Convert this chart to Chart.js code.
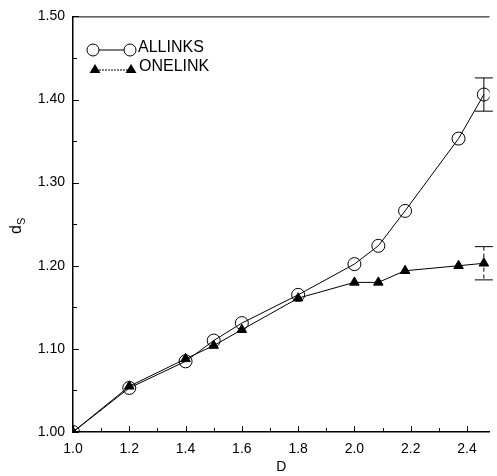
<!DOCTYPE html>
<html>
<head>
<meta charset="utf-8">
<script src="https://cdn.jsdelivr.net/npm/chart.js@4"></script>
<style>
  body { margin: 0; background: #fff; }
  #wrap { width: 497px; height: 476px; }
</style>
</head>
<body>
<div id="wrap"><canvas id="chart" width="497" height="476"></canvas></div>
<script>
// data
const dValues = [1.0, 1.2, 1.4, 1.5, 1.6, 1.8, 2.0, 2.085, 2.18, 2.37, 2.46];
const allinks = [1.000, 1.053, 1.085, 1.110, 1.131, 1.165, 1.202, 1.224, 1.266, 1.353, 1.406];
const onelink = [1.000, 1.055, 1.088, 1.104, 1.123, 1.161, 1.180, 1.180, 1.194, 1.200, 1.203];
const allinksErr = [0, 0, 0, 0, 0, 0, 0, 0, 0, 0, 0.02];
const onelinkErr = [0, 0, 0, 0, 0, 0, 0, 0, 0, 0, 0.02];

const xTicks = [1.0, 1.2, 1.4, 1.6, 1.8, 2.0, 2.2, 2.4];
const xMinor = [1.1, 1.3, 1.5, 1.7, 1.9, 2.1, 2.3];
const yTicks = [1.0, 1.1, 1.2, 1.3, 1.4, 1.5];
const yMinor = [1.05, 1.15, 1.25, 1.35, 1.45];

const FONT = 'Liberation Sans, Arial, Helvetica, sans-serif';

function pts(ys) {
    return dValues.map((x, i) => ({ x: x, y: ys[i] }));
}

// ticks pointing into the plot, top frame line, error bars, legend, y title
const decorations = {
    id: 'decorations',
    afterDatasetsDraw(chart) {
        const ctx = chart.ctx;
        const xs = chart.scales.x;
        const ys = chart.scales.y;
        const area = chart.chartArea;
        ctx.save();
        ctx.strokeStyle = '#000';
        ctx.fillStyle = '#000';
        ctx.lineWidth = 1;

        // top frame
        ctx.beginPath();
        ctx.moveTo(area.left, area.top + 0.5);
        ctx.lineTo(area.right, area.top + 0.5);
        ctx.stroke();

        // inward ticks
        ctx.beginPath();
        xTicks.forEach(v => {
            const px = Math.round(xs.getPixelForValue(v)) + 0.5;
            ctx.moveTo(px, area.bottom); ctx.lineTo(px, area.bottom - 6);
        });
        xMinor.forEach(v => {
            const px = Math.round(xs.getPixelForValue(v)) + 0.5;
            ctx.moveTo(px, area.bottom); ctx.lineTo(px, area.bottom - 4);
        });
        yTicks.forEach(v => {
            const py = Math.round(ys.getPixelForValue(v)) + 0.5;
            ctx.moveTo(area.left, py); ctx.lineTo(area.left + 6, py);
        });
        yMinor.forEach(v => {
            const py = Math.round(ys.getPixelForValue(v)) + 0.5;
            ctx.moveTo(area.left, py); ctx.lineTo(area.left + 4, py);
        });
        ctx.stroke();

        // error bars
        const errs = [allinksErr, onelinkErr];
        chart.data.datasets.forEach((ds, k) => {
            ds.data.forEach((p, i) => {
                const e = errs[k][i];
                if (!e) return;
                const px = xs.getPixelForValue(p.x);
                const top = ys.getPixelForValue(p.y + e);
                const bot = ys.getPixelForValue(p.y - e);
                ctx.setLineDash(k === 1 ? [4, 3] : []);
                ctx.beginPath();
                ctx.moveTo(px, top); ctx.lineTo(px, bot);
                ctx.stroke();
                ctx.setLineDash([]);
                ctx.beginPath();
                ctx.moveTo(px - 9, top); ctx.lineTo(px + 9, top);
                ctx.moveTo(px - 9, bot); ctx.lineTo(px + 9, bot);
                ctx.stroke();
            });
        });

        // legend
        ctx.font = '16px ' + FONT;
        ctx.textBaseline = 'middle';
        ctx.textAlign = 'left';
        // ALLINKS
        ctx.beginPath();
        ctx.moveTo(99, 50); ctx.lineTo(124, 50);
        ctx.stroke();
        [93, 130].forEach(cx => {
            ctx.beginPath();
            ctx.arc(cx, 50, 6, 0, Math.PI * 2);
            ctx.stroke();
        });
        ctx.fillText(chart.data.datasets[0].label, 138, 48);
        // ONELINK
        ctx.beginPath();
        ctx.setLineDash([2, 1]);
        ctx.moveTo(93, 70); ctx.lineTo(130, 70);
        ctx.stroke();
        ctx.setLineDash([]);
        [95, 131].forEach(cx => {
            ctx.beginPath();
            ctx.moveTo(cx, 64); ctx.lineTo(cx + 5.5, 73); ctx.lineTo(cx - 5.5, 73);
            ctx.closePath();
            ctx.fill();
        });
        ctx.fillText(chart.data.datasets[1].label, 139, 67);

        // y title d_S
        ctx.translate(16, 226);
        ctx.rotate(-Math.PI / 2);
        ctx.textAlign = 'left';
        ctx.textBaseline = 'alphabetic';
        ctx.font = '16px ' + FONT;
        ctx.fillText('d', -8, 5);
        ctx.font = '11px ' + FONT;
        ctx.fillText('S', 1, 9);
        ctx.restore();
    }
};

new Chart(document.getElementById('chart'), {
    type: 'scatter',
    data: {
        datasets: [
            {
                label: 'ALLINKS',
                data: pts(allinks),
                showLine: true,
                borderColor: '#000',
                borderWidth: 1,
                pointStyle: 'circle',
                pointRadius: 6.5,
                pointBorderWidth: 1,
                pointBackgroundColor: 'rgba(0,0,0,0)',
                pointBorderColor: '#000',
                tension: 0
            },
            {
                label: 'ONELINK',
                data: pts(onelink),
                showLine: true,
                borderColor: '#000',
                borderWidth: 1,
                pointStyle: 'triangle',
                pointRadius: 5.5,
                pointBorderWidth: 1,
                pointBackgroundColor: '#000',
                pointBorderColor: '#000',
                tension: 0
            }
        ]
    },
    options: {
        responsive: false,
        animation: false,
        layout: { padding: { top: 8, right: 0, left: 0, bottom: 0 } },
        plugins: {
            legend: { display: false },
            tooltip: { enabled: false }
        },
        scales: {
            x: {
                type: 'linear',
                min: 1.0,
                max: 2.48,
                afterBuildTicks: s => { s.ticks = xTicks.map(v => ({ value: v })); },
                afterFit: s => { s.height = 44; },
                grid: { drawOnChartArea: false, drawTicks: false, color: 'rgba(0,0,0,0)' },
                border: { display: true, color: '#000', width: 1.5 },
                ticks: {
                    color: '#000',
                    padding: 9,
                    maxRotation: 0,
                    font: { family: FONT, size: 14 },
                    callback: v => v.toFixed(1)
                },
                title: {
                    display: true,
                    text: 'D',
                    color: '#000',
                    padding: { top: 0, bottom: 0 },
                    font: { family: FONT, size: 14 }
                }
            },
            y: {
                type: 'linear',
                min: 1.0,
                max: 1.5,
                afterBuildTicks: s => { s.ticks = yTicks.map(v => ({ value: v })); },
                afterFit: s => { s.width = 73; },
                grid: { drawOnChartArea: false, drawTicks: false, color: 'rgba(0,0,0,0)' },
                border: { display: true, color: '#000', width: 1.5 },
                ticks: {
                    color: '#000',
                    padding: 8,
                    font: { family: FONT, size: 14 },
                    callback: v => v.toFixed(2)
                }
            }
        }
    },
    plugins: [decorations]
});
</script>
</body>
</html>
